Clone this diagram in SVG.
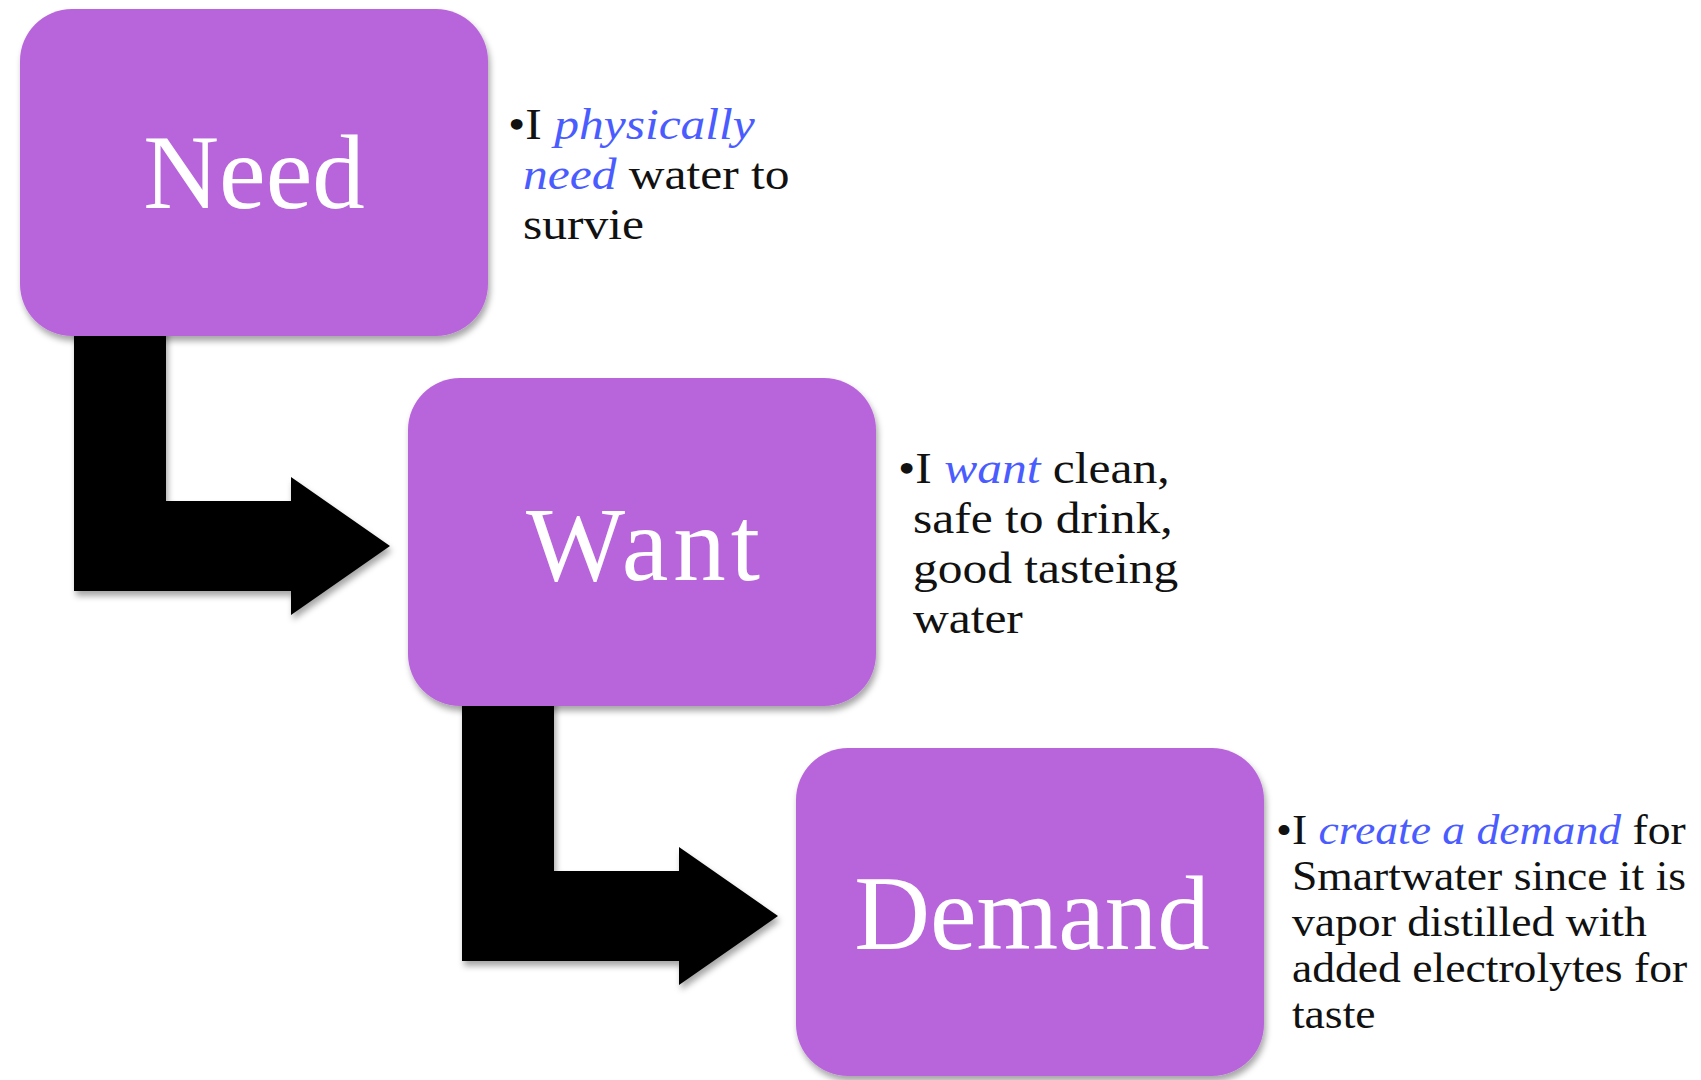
<svg xmlns="http://www.w3.org/2000/svg" width="1701" height="1080" viewBox="0 0 1701 1080">
  <style>
    .box { fill: #B865DC; }
    .label { font-family: "Liberation Serif", "Times New Roman", serif; font-size: 105px; fill: #FFFFFF; text-anchor: middle; }
    .desc { font-family: "Liberation Serif", "Times New Roman", serif; font-size: 45px; fill: #111111; }
    .desc.small { font-size: 41.5px; }
    .em { font-style: italic; fill: #4A5CFF; }
    .arrow { fill: #000000; }
  </style>
  <defs>
    <filter id="shadow" x="-10%" y="-10%" width="125%" height="130%">
      <feDropShadow dx="2" dy="5" stdDeviation="3" flood-color="#000000" flood-opacity="0.35"/>
    </filter>
  </defs>
  <rect width="1701" height="1080" fill="#FFFFFF"/>

  <!-- bent arrows between steps -->
  <g id="connectors" filter="url(#shadow)">
    <path class="arrow" d="M74,320 H166 V501 H291 V477 L390,546 L291,615 V591 H74 Z"/>
    <path class="arrow" d="M462,690 H554 V871 H679 V847 L778,916 L679,985 V961 H462 Z"/>
  </g>

  <g id="need">
    <rect class="box" x="20" y="9" width="468" height="327" rx="52" filter="url(#shadow)"/>
    <text class="label" x="254" y="208">Need</text>
  </g>

  <g id="want">
    <rect class="box" x="408" y="378" width="468" height="328" rx="52" filter="url(#shadow)"/>
    <text class="label" x="643" y="580" textLength="234">Want</text>
  </g>

  <g id="demand">
    <rect class="box" x="796" y="748" width="468" height="328" rx="52" filter="url(#shadow)"/>
    <text class="label" x="1032" y="949">Demand</text>
  </g>

  <!-- notes use a slightly widened face -->
  <g id="need-note" transform="translate(508 0) scale(1.1 1) translate(-508 0)">
    <text class="desc">
      <tspan x="508" y="139">•I <tspan class="em">physically</tspan></tspan>
      <tspan x="521.6" y="189"><tspan class="em">need</tspan> water to</tspan>
      <tspan x="521.6" y="239">survie</tspan>
    </text>
  </g>

  <g id="want-note" transform="translate(898 0) scale(1.1 1) translate(-898 0)">
    <text class="desc">
      <tspan x="898" y="483">•I <tspan class="em">want</tspan> clean,</tspan>
      <tspan x="911.6" y="533">safe to drink,</tspan>
      <tspan x="911.6" y="583">good tasteing</tspan>
      <tspan x="911.6" y="633">water</tspan>
    </text>
  </g>

  <g id="demand-note" transform="translate(1276 0) scale(1.1 1) translate(-1276 0)">
    <text class="desc small">
      <tspan x="1276" y="844">•I <tspan class="em">create a demand</tspan> for</tspan>
      <tspan x="1290.5" y="890">Smartwater since it is</tspan>
      <tspan x="1290.5" y="936">vapor distilled with</tspan>
      <tspan x="1290.5" y="982">added electrolytes for</tspan>
      <tspan x="1290.5" y="1028">taste</tspan>
    </text>
  </g>
</svg>
